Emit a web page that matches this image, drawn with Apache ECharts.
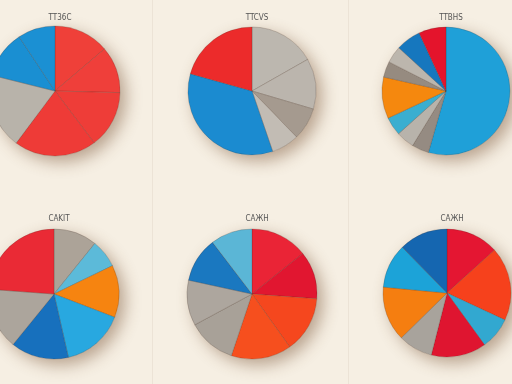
<!DOCTYPE html>
<html>
<head>
<meta charset="utf-8">
<script src="https://cdn.jsdelivr.net/npm/echarts@6/dist/echarts.min.js"></script>
<style>
html,body{margin:0;padding:0;background:#f6efe3;}
#c{width:512px;height:384px;}
</style>
</head>
<body>
<div id="c"></div>
<script>
// Chart titles
const titles = ["TT36C", "TTCVS", "TTBHS", "CAKIT", "CAЖH", "CAЖH"];

// Slice values (percent of each pie, clockwise from 12 o'clock)
const pie1Values = [13.8, 11.6, 14.3, 20.5, 18.7, 11.8, 9.3];
const pie2Values = [16.8, 12.8, 8.2, 7.0, 34.6, 20.7];
const pie3Values = [54.5, 4.3, 4.6, 4.7, 10.5, 4.0, 4.3, 6.3, 6.9];
const pie4Values = [10.8, 7.0, 13.0, 15.6, 14.4, 15.3, 23.8];
const pie5Values = [14.3, 11.9, 14.0, 15.0, 12.0, 11.3, 11.2, 10.4];
const pie6Values = [13.3, 18.6, 8.1, 13.9, 8.7, 13.8, 11.2, 12.3];

// Slice colours
const pie1Colors = ["#ef4039", "#ef3f3a", "#ee3d38", "#ee3b37", "#b8b3aa", "#1a8fd2", "#1b90d3"];
const pie2Colors = ["#bcb7af", "#bbb5ad", "#a59a8f", "#c2bcb4", "#1b8bd0", "#ec2b2b"];
const pie3Colors = ["#1fa0d8", "#958b82", "#b8b3ab", "#3aaed0", "#f5880e", "#968b80", "#bcb6ad", "#1677be", "#e4142c"];
const pie4Colors = ["#aca398", "#5cbad9", "#f68410", "#28a8e0", "#1770bd", "#aca59c", "#ea2a35"];
const pie5Colors = ["#ea2436", "#e11630", "#f5471e", "#f64f1e", "#a8a198", "#ada69e", "#1a78c0", "#5bb6d6"];
const pie6Colors = ["#e41632", "#f6411c", "#32a8d0", "#df1530", "#a8a39c", "#f57e10", "#1ca3d8", "#1566b0"];

const allValues = [pie1Values, pie2Values, pie3Values, pie4Values, pie5Values, pie6Values];
const allColors = [pie1Colors, pie2Colors, pie3Colors, pie4Colors, pie5Colors, pie6Colors];

// Layout (positions/sizes)
const centers = [[55, 91], [252, 91], [446, 91], [54, 294], [252, 294], [447, 293]];
const radii = [65, 64, 64, 65, 65, 64];
const titleTops = [9, 9, 9, 210, 210, 210];

const chart = echarts.init(document.getElementById('c'), null, {renderer: 'canvas'});

const series = [];
const title = [];
allValues.forEach((vals, i) => {
  // shadow disc under each pie
  series.push({
    type: 'pie', silent: true, center: centers[i], radius: radii[i],
    label: {show: false}, labelLine: {show: false},
    itemStyle: {color: '#e9dccb', shadowBlur: 16, shadowOffsetX: 6, shadowOffsetY: 6, shadowColor: 'rgba(110,70,40,0.45)'},
    data: [{value: 1}], animation: false
  });
  series.push({
    type: 'pie', center: centers[i], radius: radii[i], startAngle: 90, clockwise: true,
    label: {show: false}, labelLine: {show: false},
    itemStyle: {borderColor: 'rgba(60,40,30,0.4)', borderWidth: 0.5},
    emphasis: {disabled: true},
    data: vals.map((v, k) => ({value: v, itemStyle: {color: allColors[i][k]}})),
    animation: false
  });
  title.push({
    text: titles[i], left: centers[i][0], top: titleTops[i], textAlign: 'center',
    textStyle: {fontSize: 8, fontWeight: 'normal', color: '#555', fontFamily: 'DejaVu Sans Condensed'}
  });
});

chart.setOption({
  backgroundColor: '#f6efe3',
  title: title,
  graphic: [
    {type: 'rect', shape: {x: 152, y: 0, width: 1, height: 384}, style: {fill: 'rgba(150,130,110,0.10)'}, silent: true},
    {type: 'rect', shape: {x: 348, y: 0, width: 1, height: 384}, style: {fill: 'rgba(150,130,110,0.10)'}, silent: true}
  ],
  series: series
});
</script>
</body>
</html>
